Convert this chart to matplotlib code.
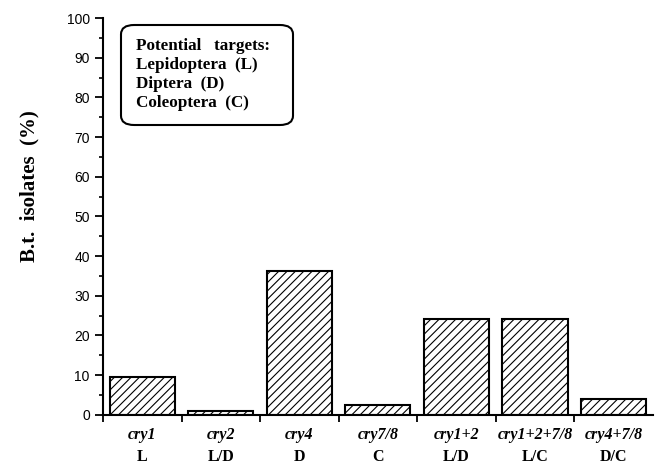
import matplotlib.pyplot as plt
from matplotlib.patches import FancyBboxPatch
from matplotlib.ticker import MultipleLocator, FixedLocator, NullFormatter
import matplotlib as mpl

genes = ["cry1", "cry2", "cry4", "cry7/8", "cry1+2", "cry1+2+7/8", "cry4+7/8"]
targets = ["L", "L/D", "D", "C", "L/D", "L/C", "D/C"]
percent = [9.6, 0.9, 36.2, 2.5, 24.2, 24.2, 4.1]
legend_lines = ["Potential   targets:", "Lepidoptera  (L)", "Diptera  (D)", "Coleoptera  (C)"]

mpl.rcParams["hatch.linewidth"] = 0.8

fig = plt.figure(figsize=(6.56, 4.63), dpi=100)
ax = fig.add_axes([0.157, 0.104, 0.838, 0.857])

xs = list(range(len(genes)))
ax.bar(xs, percent, width=0.83, color="white", edgecolor="black",
       linewidth=1.5, hatch="////")

ax.set_xlim(-0.5, 6.5)
ax.set_ylim(0, 100)
ax.spines["top"].set_visible(False)
ax.spines["right"].set_visible(False)
ax.spines["left"].set_linewidth(1.5)
ax.spines["bottom"].set_linewidth(1.5)

ax.yaxis.set_major_locator(MultipleLocator(10))
ax.yaxis.set_minor_locator(MultipleLocator(5))
ax.tick_params(axis="y", which="major", length=6, width=1.3, direction="out",
               labelsize=10)
ax.tick_params(axis="y", which="minor", length=3, width=1.2, direction="out")
for lab in ax.get_yticklabels():
    lab.set_family("Liberation Sans")

ax.xaxis.set_major_locator(FixedLocator([i - 0.5 for i in xs]))
ax.xaxis.set_major_formatter(NullFormatter())
ax.tick_params(axis="x", which="major", length=5, width=1.3, direction="out")

trans = ax.get_xaxis_transform()
for i, (g, t) in enumerate(zip(genes, targets)):
    ax.text(i, -0.05, g, transform=trans, ha="center", va="center",
            family="Liberation Serif", style="italic", weight="bold", fontsize=11.5)
    ax.text(i, -0.105, t, transform=trans, ha="center", va="center",
            family="Liberation Serif", weight="bold", fontsize=11.5)

fig.text(29 / 656, 1 - 186 / 463, "B.t.  isolates  (%)", rotation=90,
         ha="center", va="center", family="Liberation Serif", weight="bold",
         fontsize=15)

# legend box
box = FancyBboxPatch((121 / 656, 1 - 125 / 463), 172 / 656, 100 / 463,
                     boxstyle="round,pad=0,rounding_size=0.02",
                     transform=fig.transFigure, facecolor="white",
                     edgecolor="black", linewidth=1.5)
fig.patches.append(box)
for k, line in enumerate(legend_lines):
    fig.text(136 / 656, 1 - (46 + 19 * k) / 463, line, ha="left", va="center",
             family="Liberation Serif", weight="bold", fontsize=12.3)

fig.savefig("out.png", dpi=100)
